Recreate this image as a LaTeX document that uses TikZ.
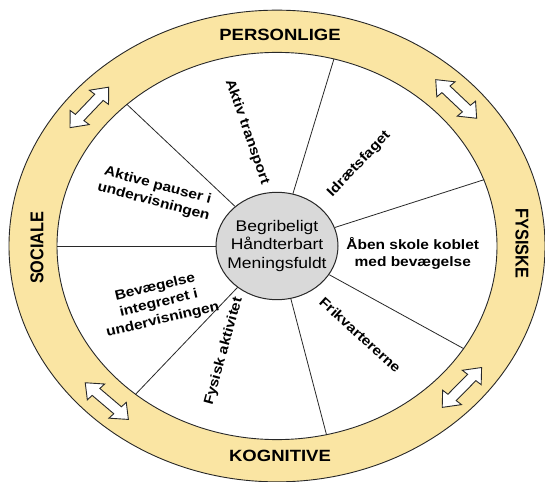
\documentclass[tikz,border=0pt]{standalone}
\usepackage{fontspec}
\setmainfont{Liberation Sans}
\definecolor{ringfill}{RGB}{250,229,163}
\definecolor{hubfill}{RGB}{217,217,217}
\definecolor{lineclr}{RGB}{40,40,40}
\tikzset{
  ringline/.style={draw=lineclr, line width=0.9pt},
  spoke/.style={draw=lineclr, line width=0.8pt},
  seglabel/.style={font=\fontsize{15.5}{19}\selectfont\bfseries, align=center, inner sep=0pt},
  ringlabel/.style={font=\fontsize{18.5}{22}\selectfont\bfseries, inner sep=0pt},
  dblarrow/.pic={
    \draw[draw=lineclr, fill=white, line width=0.9pt, line join=miter]
      (-30,0) -- (-15,12.5) -- (-15,5.5) -- (15,5.5) -- (15,12.5) -- (30,0)
      -- (15,-12.5) -- (15,-5.5) -- (-15,-5.5) -- (-15,-12.5) -- cycle;
  }
}
\begin{document}
\begin{tikzpicture}[x=1pt,y=1pt]
\useasboundingbox (-277,-235) rectangle (268,246);
\begin{scope}[yscale=0.88, every node/.append style={transform shape}]
  % ring
  \fill[ringfill, even odd rule] (0,0) circle (268pt) (0,0) circle (220pt);
  \node[circle, ringline, minimum size=536pt, inner sep=0pt] (outer) at (0,0) {};
  \node[circle, ringline, fill=white, minimum size=440pt, inner sep=0pt] (inner) at (0,0) {};
  % hub
  \node[circle, draw=lineclr, line width=1pt, fill=hubfill, minimum size=122pt, inner sep=0pt,
        align=center, font=\fontsize{17.5}{21.5}\selectfont] (hub) at (0,0)
        {Begribeligt\\Håndterbart\\Meningsfuldt};
  % spokes
  \foreach \a in {20,75,133,180,230,283,328}
    \draw[spoke] (hub.\a) -- (inner.\a);
  % label anchor points
  \coordinate (p1) at (103:133);
  \coordinate (p2) at (48.6:124);
  \coordinate (p3) at (154:135);
  \coordinate (p4) at (209:135);
  \coordinate (p5) at (246:131);
  \coordinate (p6) at (-50.6:131);
  \node[seglabel] (aaben) at (-3.4:136) {Åben skole koblet\\med bevægelse};
  % ring labels
  \node[ringlabel] (personlige) at (3,240) {PERSONLIGE};
  \node[ringlabel] (kognitive) at (3,-239) {KOGNITIVE};
  \node[ringlabel, rotate=90] (sociale) at (-240,-2) {SOCIALE};
  \node[ringlabel, rotate=-90] (fysiske) at (245,3) {FYSISKE};
  % double arrows
  \pic[rotate=-47] at (43:245) {dblarrow};
  \pic[rotate=50] at (140:245) {dblarrow};
  \pic[rotate=-44] at (226:245) {dblarrow};
  \pic[rotate=49] at (-41:245) {dblarrow};
\end{scope}
% rotated segment labels (squashed along their own height, no shear)
\node[seglabel, rotate=-70.9, yscale=0.88, transform shape] (aktivtransport) at (p1) {Aktiv transport};
\node[seglabel, rotate=46.4, yscale=0.88, transform shape] (idraet) at (p2) {Idrætsfaget};
\node[seglabel, rotate=-15, yscale=0.88, transform shape] (pauser) at (p3) {Aktive pauser i\\undervisningen};
\node[seglabel, rotate=13.3, yscale=0.88, transform shape] (integreret) at (p4) {Bevægelse\\integreret i\\undervisningen};
\node[seglabel, rotate=74.5, yscale=0.88, transform shape] (fysisk) at (p5) {Fysisk aktivitet};
\node[seglabel, rotate=-42.3, yscale=0.88, transform shape] (frikvarter) at (p6) {Frikvartererne};
\end{tikzpicture}
\end{document}
